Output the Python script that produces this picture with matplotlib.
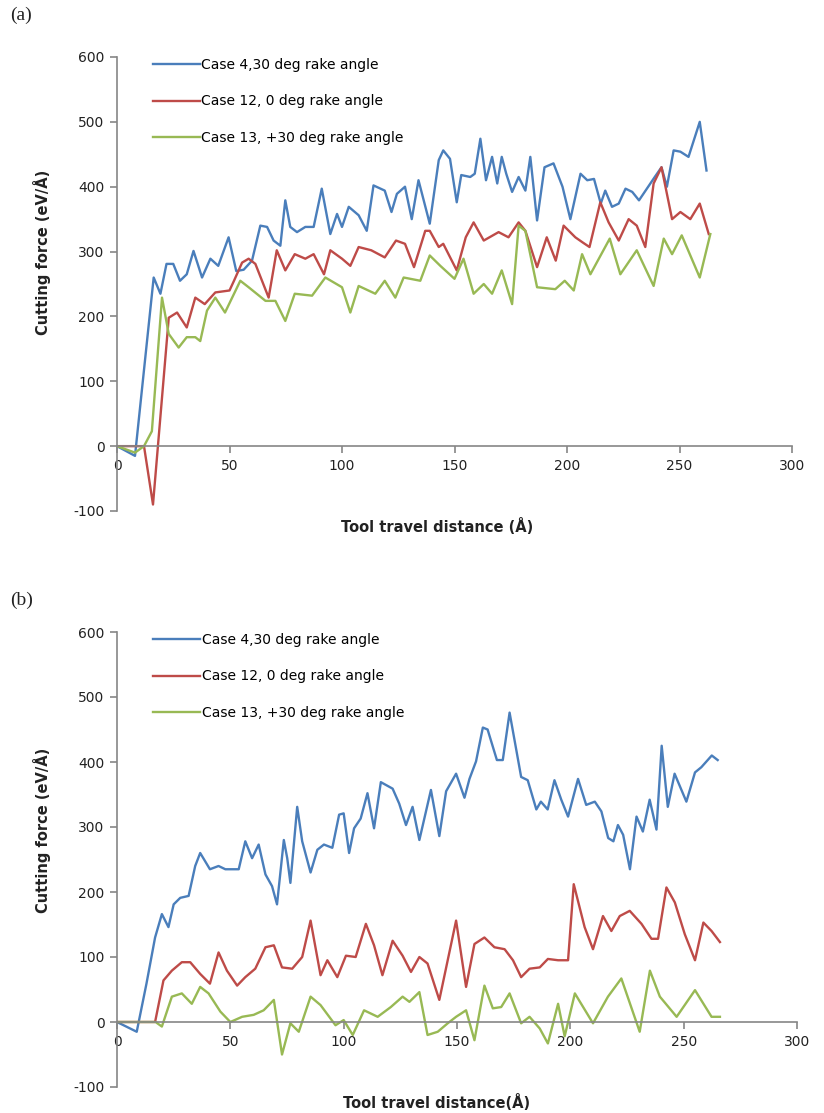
import matplotlib.pyplot as plt

# ---- panel (a) ----
a_blue_x = [0, 8, 16.3, 19.3, 22, 25, 28, 31, 34, 37.8, 41.5, 45, 49.6, 53, 56.3, 60, 63.7, 66.7,
            69.6, 72.6, 74.8, 77, 80, 83.7, 87.4, 91, 94.8, 97.8, 100, 103, 107.4, 111, 114, 119,
            122, 124.4, 128, 131, 134, 139, 143, 145, 148, 151, 153, 157, 159, 161.5, 164, 166.7,
            169, 171, 173, 175.6, 178.5, 181.5, 183.7, 186.7, 190, 194, 198, 201.5, 206, 209, 212,
            215, 217, 220, 223, 226, 229, 232, 235.5, 239, 242, 244.4, 247.4, 250.4, 254, 259, 262]
a_blue_y = [0, -15, 260, 235, 281, 281, 255, 265, 301, 260, 289, 278, 322, 270, 272, 286, 340, 338,
            317, 309, 379, 338, 330, 338, 338, 397, 327, 358, 338, 369, 356, 332, 402, 394,
            361, 389, 400, 350, 410, 343, 441, 456, 443, 376, 418, 415, 420, 474, 410, 446,
            405, 446, 420, 392, 415, 394, 446, 348, 430, 436, 400, 350, 420, 410, 412,
            374, 394, 369, 374, 397, 392, 379, 397, 415, 430, 400, 456, 454, 446, 500, 425]

a_red_x = [0, 12, 16, 23, 26.7, 31, 34.8, 39, 43.7, 50, 52, 55.6, 58.5, 61.5, 67.4, 71, 74.8, 79,
           83.7, 87.4, 92, 94.8, 100, 103.7, 107.4, 113, 119, 124, 128, 132, 137, 139, 143, 145,
           151, 155, 158.5, 163, 169.6, 174, 178.5, 181.5, 186.7, 191, 195, 198.5, 203.7, 207,
           210, 214.8, 218.5, 223, 227.4, 231, 234.8, 238.5, 242, 246.7, 250.4, 254.8, 259, 263]
a_red_y = [0, 0, -90, 198, 206, 183, 229, 219, 237, 240, 255, 283, 289, 281, 229, 302, 271, 296,
           289, 296, 265, 302, 289, 278, 307, 302, 291, 317, 312, 276, 332, 332, 307, 312,
           271, 322, 345, 317, 330, 322, 345, 332, 276, 322, 286, 340, 322, 314,
           307, 376, 345, 317, 350, 340, 307, 405, 430, 350, 361, 350, 374, 327]

a_green_x = [0, 8, 12, 15.5, 20, 23, 27.4, 31, 34.8, 37, 40, 43.7, 48, 54.8, 58.5, 66, 70.4, 74.8,
             79, 86.7, 92.6, 100, 103.7, 107.4, 114.8, 119, 123.7, 127.4, 134.8, 139, 143.7, 150,
             154, 158.5, 163, 166.7, 171, 175.6, 178.5, 181.5, 186.7, 194.8, 199, 203, 206.7,
             210.4, 219, 223.7, 231, 238.5, 243, 246.7, 251, 259, 263.7]
a_green_y = [0, -10, 0, 23, 229, 173, 152, 168, 168, 162, 209, 229, 206, 255, 245, 224, 224, 193,
             235, 232, 260, 245, 206, 247, 235, 255, 229, 260, 255, 294, 278, 258,
             289, 235, 250, 235, 271, 219, 340, 332, 245, 242, 255, 240, 296,
             265, 320, 265, 302, 247, 320, 296, 325, 260, 327]

# ---- panel (b) ----
b_blue_x = [0, 8.7, 13, 16.8, 19.8, 22.7, 25, 27.9, 31.6, 34.5, 36.7, 41, 44.8, 47.8, 53.7, 56.6,
            59.6, 62.5, 65.5, 68.4, 70.6, 73.6, 75.1, 76.5, 79.5, 81.7, 85.4, 88.4, 91.3, 95, 98,
            100, 102.4, 104.6, 107.5, 110.5, 113.4, 116.4, 121.6, 124.5, 127.5, 130.4, 133.4,
            138.5, 142.2, 145.2, 149.6, 153.3, 155.5, 158.4, 161.4, 163.5, 167.6, 170.2, 173.2,
            178.3, 181.2, 185, 187, 190, 193, 196, 199, 203.4, 207, 210.8, 213.7, 216.7, 219, 221,
            223.3, 226.3, 229.2, 232, 235, 238, 240.3, 243, 246, 251.2, 255, 257.8, 262.4, 265]
b_blue_y = [0, -15, 59, 130, 166, 146, 181, 191, 194, 240, 260, 235, 240, 235, 235, 278,
            252, 273, 227, 209, 181, 280, 252, 214, 331, 278, 230, 265, 273, 268, 319,
            321, 260, 298, 313, 352, 298, 369, 359, 336, 303, 331, 280,
            357, 286, 355, 382, 345, 374, 401, 453, 450, 403, 403, 476,
            377, 372, 327, 339, 327, 372, 342, 316, 374, 334, 339, 324, 283, 278, 303,
            288, 235, 316, 293, 342, 296, 425, 331, 382, 339, 384, 392, 410, 403]

b_red_x = [0, 16.8, 20.5, 24.2, 28.6, 32.3, 36.7, 41, 44.8, 48.5, 53, 56.6, 61, 65.5, 69.2, 72.8,
           77.3, 81.7, 85.4, 89.8, 92.8, 97.2, 101, 105.3, 109.8, 113.4, 117.1, 121.6, 126, 129.7,
           133.4, 137, 142.2, 149.6, 154, 157.7, 162.1, 166.5, 171, 174.7, 178.3, 182, 186.5,
           190.1, 194.6, 199, 201.5, 206.3, 210, 214.4, 218.1, 221.8, 226.2, 231.4, 235.8, 238.7,
           242.4, 246.1, 250.5, 255, 258.7, 262.3, 266]
b_red_y = [0, 0, 64, 79, 92, 92, 74, 59, 107, 79, 56, 69, 82, 115, 118, 84,
           82, 100, 156, 72, 95, 69, 102, 100, 151, 118, 72, 125, 102, 77,
           100, 90, 34, 156, 54, 120, 130, 115, 112, 95, 69, 82, 84,
           97, 95, 95, 212, 146, 112, 163, 140, 163, 171, 151, 128, 128,
           207, 184, 135, 95, 153, 140, 123]

b_green_x = [0, 17, 19.8, 24.2, 28.6, 33, 36.7, 40.4, 45.6, 50, 55.2, 60.3, 64.7, 69.2, 72.8, 76.5,
             80.2, 85.4, 89.8, 96.4, 100, 104, 109, 115, 120.8, 126, 129, 133.4, 137, 141.5, 145.9,
             149.6, 154, 157.7, 162.1, 165.8, 169.5, 173.2, 178.3, 182, 186.5, 190.1, 194.6, 197.5,
             202, 210, 216.6, 222.5, 230.6, 235.1, 239.5, 246.9, 255, 262.3, 266]
b_green_y = [0, 0, -7, 39, 44, 28, 54, 44, 16, 0, 8, 11, 18, 34, -50, -2,
             -15, 39, 26, -5, 3, -20, 18, 8, 23, 39, 31, 46, -20, -15, -2,
             8, 18, -28, 56, 21, 23, 44, -2, 8, -10, -33, 28, -22,
             44, -2, 39, 67, -15, 79, 39, 8, 49, 8, 8]

labels_a = ['Case 4,30 deg rake angle', 'Case 12, 0 deg rake angle', 'Case 13, +30 deg rake angle']
labels_b = labels_a
colors = ['#4A7EBB', '#BE4B48', '#98B954']
axis_grey = '#868686'

plt.rcParams['font.family'] = ['DejaVu Sans']
plt.rcParams['axes.unicode_minus'] = False

fig = plt.figure(figsize=(8.24, 11.13), dpi=100)


def draw_panel(ax, series, labels):
    for (xs, ys), lab, c in zip(series, labels, colors):
        ax.plot(xs, ys, color=c, lw=1.7, label=lab)
    ax.set_xlim(0, 300)
    ax.set_ylim(-100, 600)
    ax.spines['top'].set_visible(False)
    ax.spines['right'].set_visible(False)
    ax.spines['bottom'].set_position(('data', 0))
    for s in ('bottom', 'left'):
        ax.spines[s].set_color(axis_grey)
        ax.spines[s].set_linewidth(1.2)
    ax.set_xticks(range(0, 301, 50))
    ax.set_yticks(range(-100, 601, 100))
    ax.tick_params(direction='out', length=5, width=1.2, color=axis_grey,
                   labelsize=10, labelcolor='#222222', pad=4)
    ax.legend(loc='upper left', bbox_to_anchor=(0.053, 0.998), frameon=False,
              handlelength=3.4, handletextpad=0.1, labelspacing=1.62,
              borderpad=0, borderaxespad=0, fontsize=10)


# 上图 (a)
ax1 = fig.add_axes([117 / 824, 1 - 511 / 1113, 675 / 824, 454 / 1113])
draw_panel(ax1, [(a_blue_x, a_blue_y), (a_red_x, a_red_y), (a_green_x, a_green_y)], labels_a)

# 下图 (b)
ax2 = fig.add_axes([117 / 824, 1 - 1087 / 1113, 680 / 824, 455 / 1113])
draw_panel(ax2, [(b_blue_x, b_blue_y), (b_red_x, b_red_y), (b_green_x, b_green_y)], labels_b)

# 坐标轴标题和面板编号
fig.text(437 / 824, 1 - 527 / 1113, 'Tool travel distance (Å)', ha='center', va='center',
         fontsize=10.5, fontweight='bold', color='#222222')
fig.text(437 / 824, 1 - 1103 / 1113, 'Tool travel distance(Å)', ha='center', va='center',
         fontsize=10.5, fontweight='bold', color='#222222')
fig.text(42 / 824, 1 - 252 / 1113, 'Cutting force (eV/Å)', ha='center', va='center',
         rotation=90, fontsize=10.5, fontweight='bold', color='#222222')
fig.text(42 / 824, 1 - 830 / 1113, 'Cutting force (eV/Å)', ha='center', va='center',
         rotation=90, fontsize=10.5, fontweight='bold', color='#222222')
fig.text(10 / 824, 1 - 15 / 1113, '(a)', ha='left', va='center', fontsize=14,
         family='Liberation Serif', color='#222222')
fig.text(10 / 824, 1 - 600 / 1113, '(b)', ha='left', va='center', fontsize=14,
         family='Liberation Serif', color='#222222')

fig.savefig('out.png', dpi=100)
